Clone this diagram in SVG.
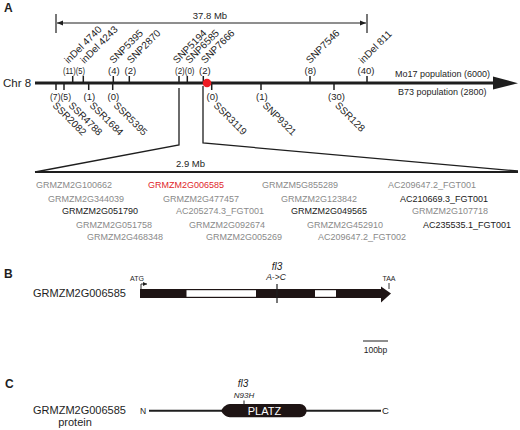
<svg xmlns="http://www.w3.org/2000/svg" width="520" height="430" viewBox="0 0 520 430">
<defs>
<style>
text{font-family:"Liberation Sans",Arial,sans-serif;fill:#1e1e1e}
.pl{font-size:12px;font-weight:bold}
.cnt{font-size:9.5px}
.mk{font-size:10px}
.g{font-size:9px;fill:#8a8a8a}
.gb{font-size:9px;fill:#1a1a1a}
.gr{font-size:9px;fill:#e0262b}
.pop{font-size:9px}
.it{font-style:italic}
.ln{stroke:#1e1e1e;fill:none}
</style>
<marker id="ah" viewBox="0 0 10 10" refX="10" refY="5" markerWidth="6" markerHeight="6" orient="auto-start-reverse" markerUnits="userSpaceOnUse">
<path d="M0,1 L10,5 L0,9 Z" fill="#1e1e1e"/>
</marker>
<marker id="sa" viewBox="0 0 10 10" refX="10" refY="5" markerWidth="4" markerHeight="4" orient="auto" markerUnits="userSpaceOnUse">
<path d="M0,0 L10,5 L0,10 Z" fill="#1e1e1e"/>
</marker>
</defs>
<rect width="520" height="430" fill="#ffffff"/>

<g id="panel-labels">
<text class="pl" x="4" y="12">A</text>
<text class="pl" x="4" y="278">B</text>
<text class="pl" x="5" y="388">C</text>
</g>

<g id="connectors">
<!-- 37.8 Mb span -->
<line class="ln" x1="56" y1="14" x2="56" y2="33" stroke-width="1.2"/>
<line class="ln" x1="367" y1="14" x2="367" y2="33" stroke-width="1.2"/>
<line class="ln" x1="57" y1="23" x2="366" y2="23" stroke-width="1" marker-start="url(#ah)" marker-end="url(#ah)"/>
<!-- zoom lines -->
<polyline class="ln" points="179,88 179,145 35,172" stroke-width="1.3"/>
<polyline class="ln" points="203,86 203,143 518,171" stroke-width="1.3"/>
<line class="ln" x1="35" y1="172" x2="518" y2="172" stroke-width="2"/>
</g>

<g id="span-label"><text x="210" y="19" font-size="9.5" text-anchor="middle">37.8 Mb</text></g>

<g id="chromosome">
<text x="3" y="87" font-size="11.5">Chr 8</text>
<line class="ln" x1="35" y1="83" x2="495" y2="83" stroke-width="3"/>
<polygon points="493,76.5 518,83.2 493,89.5" fill="#1e1e1e"/>
<text class="pop" x="395" y="77">Mo17 population (6000)</text>
<text class="pop" x="398" y="95">B73 population (2800)</text>
</g>

<g id="top-markers" class="ln" stroke-width="1.5">
<line x1="72.7" y1="76" x2="72.7" y2="83"/>
<line x1="83.3" y1="76" x2="83.3" y2="83"/>
<line x1="113.3" y1="76" x2="113.3" y2="83"/>
<line x1="129.3" y1="76" x2="129.3" y2="83"/>
<line x1="179" y1="76" x2="179" y2="83"/>
<line x1="187.3" y1="76" x2="187.3" y2="83"/>
<line x1="203.3" y1="76" x2="203.3" y2="83"/>
<line x1="310" y1="76" x2="310" y2="83"/>
<line x1="367" y1="76" x2="367" y2="83"/>
</g>
<g id="bottom-markers" class="ln" stroke-width="1.5">
<line x1="56" y1="83" x2="56" y2="90"/>
<line x1="64" y1="83" x2="64" y2="90"/>
<line x1="88.7" y1="83" x2="88.7" y2="90"/>
<line x1="112.7" y1="83" x2="112.7" y2="90"/>
<line x1="211.7" y1="83" x2="211.7" y2="90"/>
<line x1="261" y1="83" x2="261" y2="90"/>
<line x1="334" y1="83" x2="334" y2="90"/>
</g>
<circle id="fl3-locus" cx="207" cy="83" r="4.3" fill="#ee1c24"/>

<g id="top-counts" class="cnt">
<text x="63" y="74" textLength="22" lengthAdjust="spacingAndGlyphs">(11)(5)</text>
<text x="108" y="74">(4)</text>
<text x="124.5" y="74">(2)</text>
<text x="175" y="74" textLength="19.5" lengthAdjust="spacingAndGlyphs">(2)(0)</text>
<text x="199" y="74">(2)</text>
<text x="304.5" y="74">(8)</text>
<text x="357.5" y="74">(40)</text>
</g>
<g id="bottom-counts" class="cnt">
<text x="50" y="100" textLength="21" lengthAdjust="spacingAndGlyphs">(7)(5)</text>
<text x="83.5" y="100">(1)</text>
<text x="107.5" y="100">(0)</text>
<text x="206.5" y="100">(0)</text>
<text x="256" y="100">(1)</text>
<text x="328" y="100">(30)</text>
</g>

<g id="top-names" class="mk">
<text transform="translate(68.5,64) rotate(-45)">inDel 4740</text>
<text transform="translate(84.5,64) rotate(-45)">inDel 4243</text>
<text transform="translate(113.5,64) rotate(-45)">SNP5395</text>
<text transform="translate(131,64) rotate(-45)">SNP2870</text>
<text transform="translate(177,64) rotate(-45)">SNP5194</text>
<text transform="translate(189.5,64) rotate(-45)">SNP6585</text>
<text transform="translate(205,64) rotate(-45)">SNP7666</text>
<text transform="translate(310,64) rotate(-45)">SNP7546</text>
<text transform="translate(363,64) rotate(-45)">inDel 811</text>
</g>
<g id="bottom-names" class="mk">
<text transform="translate(52,106) rotate(45)">SSR2082</text>
<text transform="translate(68,106) rotate(45)">SSR4788</text>
<text transform="translate(89,106) rotate(45)">SSR1684</text>
<text transform="translate(113,106) rotate(45)">SSR5395</text>
<text transform="translate(213,106) rotate(45)">SSR3119</text>
<text transform="translate(262,106) rotate(45)">SNP9321</text>
<text transform="translate(334.5,106) rotate(45)">SSR128</text>
</g>

<g id="interval"><text x="176" y="167" font-size="9.5">2.9 Mb</text></g>

<g id="genes">
<text class="g" x="36" y="188">GRMZM2G100662</text>
<text class="g" x="48" y="202">GRMZM2G344039</text>
<text class="gb" x="62" y="214">GRMZM2G051790</text>
<text class="g" x="76" y="228">GRMZM2G051758</text>
<text class="g" x="87" y="240">GRMZM2G468348</text>
<text class="gr" x="148" y="188">GRMZM2G006585</text>
<text class="g" x="163" y="202">GRMZM2G477457</text>
<text class="g" x="176" y="214">AC205274.3_FGT001</text>
<text class="g" x="189" y="228">GRMZM2G092674</text>
<text class="g" x="206" y="240">GRMZM2G005269</text>
<text class="g" x="262" y="188">GRMZM5G855289</text>
<text class="g" x="281" y="202">GRMZM2G123842</text>
<text class="gb" x="291" y="214">GRMZM2G049565</text>
<text class="g" x="307" y="228">GRMZM2G452910</text>
<text class="g" x="318" y="240">AC209647.2_FGT002</text>
<text class="g" x="388" y="188">AC209647.2_FGT001</text>
<text class="gb" x="400" y="202">AC210669.3_FGT001</text>
<text class="g" x="412" y="214">GRMZM2G107718</text>
<text class="gb" x="423" y="228">AC235535.1_FGT001</text>
</g>

<g id="gene-structure">
<text x="33" y="297" font-size="11">GRMZM2G006585</text>
<rect x="140" y="289" width="243" height="9" fill="#1e1414"/>
<polygon points="381,286.5 391,293.5 381,302.5" fill="#1e1414"/>
<rect x="186.5" y="290.2" width="69.5" height="6.6" fill="#ffffff"/>
<rect x="315" y="290.2" width="21" height="6.6" fill="#ffffff"/>
<text x="130" y="281" font-size="7">ATG</text>
<polyline class="ln" points="141,289 141,284 147,284" stroke-width="0.9" marker-end="url(#sa)"/>
<text x="389" y="281" font-size="7" text-anchor="middle">TAA</text>
<line class="ln" x1="389" y1="283" x2="389" y2="289" stroke-width="0.9"/>
<line class="ln" x1="277" y1="284" x2="277" y2="303" stroke-width="1.2"/>
<text class="it" x="277" y="270" font-size="10" text-anchor="middle">fl3</text>
<text class="it" x="276" y="280" font-size="8.5" text-anchor="middle">A-&gt;C</text>
</g>

<g id="scale-bar">
<line class="ln" x1="363" y1="341" x2="388" y2="341" stroke-width="1"/>
<text x="375.5" y="352.5" font-size="8.5" text-anchor="middle">100bp</text>
</g>

<g id="protein">
<text x="33" y="414" font-size="11">GRMZM2G006585</text>
<text x="75" y="425.5" font-size="11" text-anchor="middle">protein</text>
<text x="140" y="414" font-size="8.5">N</text>
<text x="382" y="414" font-size="9.5">C</text>
<line class="ln" x1="149" y1="410.7" x2="381" y2="410.7" stroke-width="2"/>
<path d="M221,410.7 C225,404 228,404 234,404 L300,404 A6.6,6.6 0 0 1 300,417.3 L234,417.3 C228,417.3 225,417.3 221,410.7 Z" fill="#1e1414"/>
<text x="264.5" y="414.5" font-size="11" fill="#ffffff" text-anchor="middle" style="fill:#ffffff">PLATZ</text>
<line class="ln" x1="244" y1="400.5" x2="244" y2="405" stroke-width="1"/>
<text class="it" x="243" y="387" font-size="10" text-anchor="middle">fl3</text>
<text class="it" x="244" y="398" font-size="8" text-anchor="middle">N93H</text>
</g>
</svg>
